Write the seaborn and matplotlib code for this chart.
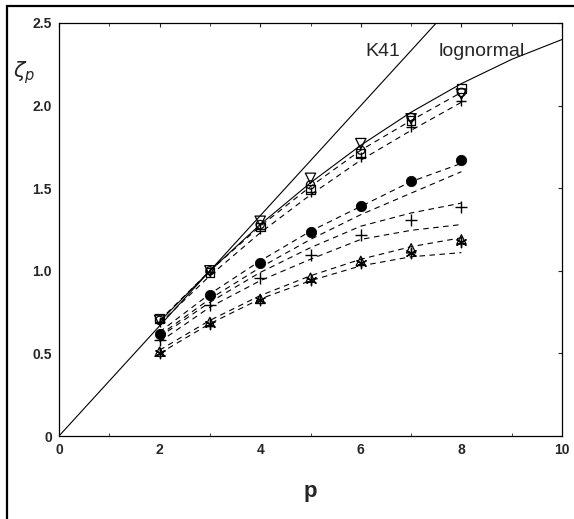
import numpy as np
import pandas as pd
import seaborn as sns
import matplotlib
matplotlib.use('Agg')
import matplotlib.pyplot as plt
from matplotlib.patches import Rectangle

# moments p where the markers sit
p_vals = [2, 3, 4, 5, 6, 7, 8]

zeta_square = [0.71, 0.99, 1.265, 1.49, 1.71, 1.91, 2.105]
zeta_tri_down = [0.70, 1.00, 1.30, 1.56, 1.77, 1.92, 2.07]
zeta_circle_open = [0.70, 1.00, 1.28, 1.52, 1.73, 1.93, 2.08]
zeta_plus_hi = [0.69, 0.99, 1.25, 1.48, 1.69, 1.87, 2.03]
zeta_circle_fill = [0.616, 0.853, 1.05, 1.237, 1.392, 1.545, 1.671]
zeta_plus_lo = [0.58, 0.793, 0.955, 1.096, 1.217, 1.31, 1.388]
zeta_tri_up = [0.51, 0.69, 0.83, 0.958, 1.06, 1.136, 1.19]
zeta_star = [0.50, 0.68, 0.825, 0.945, 1.045, 1.11, 1.176]

# dashed model curves
dash_curves = [
    [0.70, 1.00, 1.27, 1.51, 1.73, 1.91, 2.08],
    [0.68, 0.97, 1.23, 1.46, 1.67, 1.85, 2.02],
    [0.63, 0.86, 1.06, 1.24, 1.39, 1.54, 1.65],
    [0.61, 0.83, 1.02, 1.19, 1.34, 1.47, 1.60],
    [0.60, 0.81, 0.99, 1.14, 1.27, 1.35, 1.41],
    [0.57, 0.78, 0.94, 1.07, 1.19, 1.245, 1.28],
    [0.52, 0.70, 0.85, 0.97, 1.07, 1.146, 1.20],
    [0.50, 0.68, 0.83, 0.94, 1.03, 1.085, 1.11],
]

# K41 and lognormal reference curves
k41_p = [0, 7.5]
k41_zeta = [0, 2.5]
logn_p = [2, 3, 4, 5, 6, 7, 8, 9, 10]
logn_zeta = [0.693, 1.0, 1.28, 1.533, 1.76, 1.96, 2.133, 2.28, 2.40]

sns.set_style("white")
plt.rcParams['font.family'] = ['Liberation Sans', 'DejaVu Sans']

fig = plt.figure(figsize=(5.74, 5.19), dpi=100)
ax = fig.add_axes([59 / 574, 83 / 519, 503 / 574, 413 / 519])

# outer frame of the scanned figure
fig.patches.append(Rectangle((7 / 574, -0.1), 1.2, (513 / 519) + 0.1, transform=fig.transFigure,
                             fill=False, edgecolor='black', linewidth=1.6))

dash_df = pd.DataFrame({
    'p': p_vals * len(dash_curves),
    'zeta': [z for c in dash_curves for z in c],
    'curve': [i for i, c in enumerate(dash_curves) for _ in c],
})
sns.lineplot(data=dash_df, x='p', y='zeta', units='curve', estimator=None,
             color='black', linewidth=0.8, linestyle=(0, (5, 4)), ax=ax)

sns.lineplot(x=k41_p, y=k41_zeta, color='black', linewidth=0.8, ax=ax)
sns.lineplot(x=logn_p, y=logn_zeta, color='black', linewidth=0.8, sort=False, ax=ax)

open_kw = dict(facecolor='none', edgecolor='black', linewidth=0.9, zorder=5)
sns.scatterplot(x=p_vals, y=zeta_square, marker='s', s=40, ax=ax, **open_kw)
sns.scatterplot(x=p_vals, y=zeta_tri_down, marker='v', s=55, ax=ax, **open_kw)
sns.scatterplot(x=p_vals, y=zeta_circle_open, marker='o', s=35, ax=ax, **open_kw)
sns.scatterplot(x=p_vals, y=zeta_tri_up, marker='^', s=45, ax=ax, **open_kw)
sns.scatterplot(x=p_vals, y=zeta_plus_hi, marker='+', s=60, color='black', linewidth=1, zorder=6, ax=ax)
sns.scatterplot(x=p_vals, y=zeta_plus_lo, marker='+', s=80, color='black', linewidth=1, zorder=6, ax=ax)
sns.scatterplot(x=p_vals, y=zeta_circle_fill, marker='o', s=55, color='black', edgecolor='black', zorder=6, ax=ax)
sns.scatterplot(x=p_vals, y=zeta_star, marker=(6, 2, 0), s=55, color='black', linewidth=1, zorder=6, ax=ax)

ax.text(6.1, 2.33, 'K41', fontsize=14, va='center', ha='left')
ax.text(7.55, 2.33, 'lognormal', fontsize=14, va='center', ha='left')

ax.set_xlim(0, 10)
ax.set_ylim(0, 2.5)
ax.set_xticks([0, 2, 4, 6, 8, 10])
ax.set_xticklabels(['0', '2', '4', '6', '8', '10'], fontweight='bold', fontsize=10)
ax.set_yticks([0, 0.5, 1.0, 1.5, 2.0, 2.5])
ax.set_yticklabels(['0', '0.5', '1.0', '1.5', '2.0', '2.5'], fontweight='bold', fontsize=10)
ax.set_xticks(np.arange(0, 10.1, 1), minor=True)
ax.tick_params(direction='in', length=3, width=0.8, top=True, right=True, pad=5)
ax.tick_params(which='minor', direction='in', length=2, top=True, bottom=True)
for sp in ax.spines.values():
    sp.set_linewidth(0.9)
    sp.set_color('black')

ax.set_xlabel('')
ax.set_ylabel('')
fig.text(310 / 574, 1 - 492 / 519, 'p', fontsize=16, fontweight='bold', ha='center', va='center')
fig.text(24 / 574, 1 - 73 / 519, r'$\zeta_p$', fontsize=15, ha='center', va='center')

fig.savefig('out.png', dpi=100)
